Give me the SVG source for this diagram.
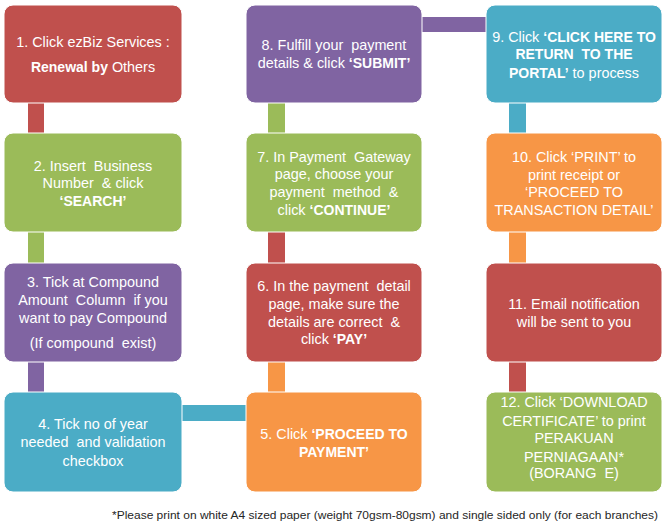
<svg xmlns="http://www.w3.org/2000/svg" width="668" height="526" viewBox="0 0 668 526">
<style>
.box{stroke:#ffffff;stroke-width:1}
.red{fill:#c0504d}.green{fill:#9bbb59}.purple{fill:#8064a2}.teal{fill:#4bacc6}.orange{fill:#f79646}
text{font-family:"Liberation Sans",Arial,sans-serif;font-size:14.4px;fill:#ffffff;text-anchor:middle;white-space:pre}
.b{font-weight:bold;font-size:14px}
.foot{font-size:11.5px;fill:#262626;text-anchor:start}
</style>
<rect width="668" height="526" fill="#ffffff"/>
<g id="connectors">
<rect class="red" x="28" y="102" width="16" height="32"/>
<rect class="green" x="28" y="231" width="16" height="33"/>
<rect class="purple" x="28" y="361" width="16" height="32"/>
<rect class="teal" x="181" y="405" width="66" height="16"/>
<rect class="orange" x="268" y="361" width="17" height="32"/>
<rect class="red" x="268" y="231" width="17" height="33"/>
<rect class="green" x="268" y="102" width="17" height="32"/>
<rect class="purple" x="421" y="17" width="66" height="15"/>
<rect class="teal" x="509" y="102" width="17" height="32"/>
<rect class="orange" x="509" y="231" width="17" height="33"/>
<rect class="red" x="509" y="361" width="17" height="32"/>
</g>
<g id="n1"><rect class="box red" x="4" y="5" width="178" height="98" rx="9"/>
<text x="93" y="47">1. Click ezBiz Services :</text>
<text x="93" y="72"><tspan class="b">Renewal by</tspan> Others</text></g>
<g id="n2"><rect class="box green" x="4" y="133" width="178" height="99" rx="9"/>
<text x="93" y="171">2. Insert  Business</text>
<text x="93" y="188">Number  &amp; click</text>
<text x="93" y="206" class="b">‘SEARCH’</text></g>
<g id="n3"><rect class="box purple" x="4" y="263" width="178" height="99" rx="9"/>
<text x="93" y="287">3. Tick at Compound</text>
<text x="93" y="305">Amount  Column  if you</text>
<text x="93" y="323">want to pay Compound</text>
<text x="93" y="348">(If compound  exist)</text></g>
<g id="n4"><rect class="box teal" x="4" y="392" width="178" height="100" rx="9"/>
<text x="93" y="429">4. Tick no of year</text>
<text x="93" y="447">needed  and validation</text>
<text x="93" y="466">checkbox</text></g>
<g id="n5"><rect class="box orange" x="246" y="392" width="176" height="100" rx="9"/>
<text x="334" y="439">5. Click <tspan class="b">‘PROCEED TO</tspan></text>
<text x="334" y="457" class="b">PAYMENT’</text></g>
<g id="n6"><rect class="box red" x="246" y="263" width="176" height="99" rx="9"/>
<text x="334" y="291">6. In the payment  detail</text>
<text x="334" y="309">page, make sure the</text>
<text x="334" y="327">details are correct  &amp;</text>
<text x="334" y="344">click <tspan class="b">‘PAY’</tspan></text></g>
<g id="n7"><rect class="box green" x="246" y="133" width="176" height="99" rx="9"/>
<text x="334" y="162">7. In Payment  Gateway</text>
<text x="334" y="179">page, choose your</text>
<text x="334" y="197">payment  method  &amp;</text>
<text x="334" y="215">click <tspan class="b">‘CONTINUE’</tspan></text></g>
<g id="n8"><rect class="box purple" x="246" y="5" width="176" height="98" rx="9"/>
<text x="334" y="50">8. Fulfill your  payment</text>
<text x="334" y="68">details &amp; click <tspan class="b">‘SUBMIT’</tspan></text></g>
<g id="n9"><rect class="box teal" x="486" y="5" width="176" height="98" rx="9"/>
<text x="574" y="42">9. Click <tspan class="b">‘CLICK HERE TO</tspan></text>
<text x="574" y="59" class="b">RETURN  TO THE</text>
<text x="574" y="78"><tspan class="b">PORTAL’</tspan> to process</text></g>
<g id="n10"><rect class="box orange" x="486" y="133" width="176" height="99" rx="9"/>
<text x="574" y="162">10. Click ‘PRINT’ to</text>
<text x="574" y="180">print receipt or</text>
<text x="574" y="197">‘PROCEED TO</text>
<text x="574" y="215">TRANSACTION DETAIL’</text></g>
<g id="n11"><rect class="box red" x="486" y="263" width="176" height="99" rx="9"/>
<text x="574" y="309">11. Email notification</text>
<text x="574" y="327">will be sent to you</text></g>
<g id="n12"><rect class="box green" x="486" y="392" width="176" height="100" rx="9"/>
<text x="574" y="407">12. Click ‘DOWNLOAD</text>
<text x="574" y="426">CERTIFICATE’ to print</text>
<text x="574" y="443">PERAKUAN</text>
<text x="574" y="462">PERNIAGAAN*</text>
<text x="574" y="478">(BORANG  E)</text></g>
<text class="foot" x="112" y="519" textLength="546" lengthAdjust="spacingAndGlyphs">*Please print on white A4 sized paper (weight 70gsm-80gsm) and single sided only (for each branches)</text>
</svg>
